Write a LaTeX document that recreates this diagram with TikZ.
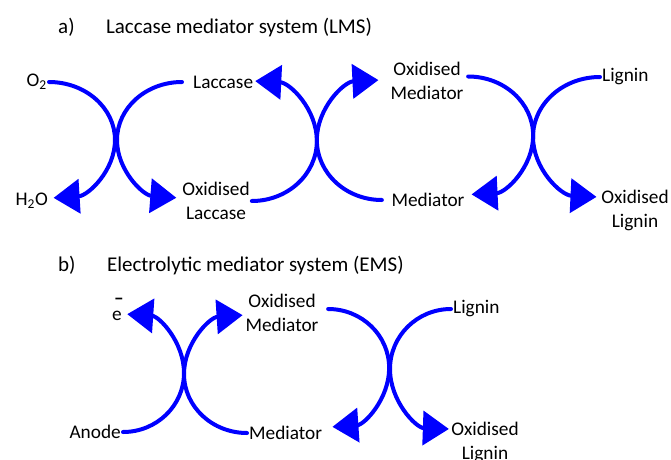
\documentclass[tikz,border=0pt]{standalone}
\usepackage{fontspec}
\setmainfont{Carlito}
\usepackage{tikz}
\usetikzlibrary{arrows.meta,positioning}

\begin{document}
\begin{tikzpicture}[x=1pt, y=1pt,
flow/.style={draw=blue, line width=4pt, line cap=round, -{Triangle[length=26pt, width=34pt]}},
lbl/.style={font=\fontsize{19.3}{24}\selectfont, inner sep=2pt, align=center},
ttl/.style={font=\fontsize{21}{25}\selectfont, inner sep=0pt, anchor=base west}
]
\useasboundingbox (0,0) rectangle (671,459);

\node[ttl] (ta) at (58,425.5) {a)};
\node[ttl, right=31pt of ta] (tlms) {Laccase mediator system (LMS)};

\node[lbl, anchor=east] (o2) at (49,377) {O\textsubscript{2}};
\node[lbl, anchor=east] (h2o) at (50,258) {H\textsubscript{2}O};
\node[lbl, anchor=west] (lac) at (191,377) {Laccase};
\node[lbl] (oxlac) at (216,258) {Oxidised\\Laccase};
\node[lbl] (oxmed) at (427,378.5) {Oxidised\\Mediator};
\node[lbl] (med) at (428,259) {Mediator};
\node[lbl, anchor=west] (lig) at (600,382) {Lignin};
\node[lbl] (oxlig) at (635,248.5) {Oxidised\\Lignin};

\draw[flow] (o2.east) arc[start angle=90, end angle=-86, x radius=66, y radius=58];
\draw[flow] ([xshift=-9pt]lac.west) arc[start angle=90, end angle=265, x radius=65, y radius=58];
\draw[flow] (oxlac.east) arc[start angle=-90, end angle=87, x radius=65, y radius=60];
\draw[flow] ([xshift=-7.5pt]med.west) arc[start angle=270, end angle=93, x radius=65, y radius=60];
\draw[flow] ([shift={(2.5pt,4pt)}]oxmed.east) arc[start angle=90, end angle=-87, x radius=65, y radius=59];
\draw[flow] (lig.west) arc[start angle=90, end angle=267, x radius=67, y radius=60];

\node[ttl] (tb) at (58,187.3) {b)};
\node[ttl, right=31pt of tb] (tems) {Electrolytic mediator system (EMS)};

\node[lbl, anchor=east] (anode) at (123,27) {Anode};
\node[lbl, anchor=base] (el) at (117,139) {e\llap{\raisebox{15.5pt}{\textbf{–}}\hspace{-2pt}}};
\node[lbl] (oxmedb) at (282,146) {Oxidised\\Mediator};
\node[lbl, anchor=west] (medb) at (247,26) {Mediator};
\node[lbl, anchor=west] (ligb) at (451,150) {Lignin};
\node[lbl] (oxligb) at (485,16.5) {Oxidised\\Lignin};

\draw[flow] (anode.east) arc[start angle=-90, end angle=86, x radius=61, y radius=59];
\draw[flow] (medb.west) arc[start angle=270, end angle=94, x radius=63, y radius=59];
\draw[flow] ([shift={(7.5pt,4pt)}]oxmedb.east) arc[start angle=90, end angle=-86, x radius=61, y radius=59];
\draw[flow] (ligb.west) arc[start angle=90, end angle=268, x radius=61, y radius=60];
\end{tikzpicture}
\end{document}
